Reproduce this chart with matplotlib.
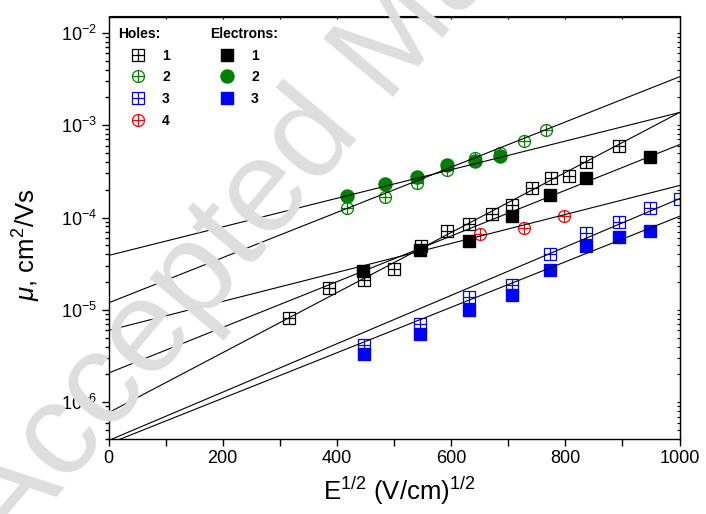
import matplotlib
matplotlib.use('Agg')
import matplotlib.pyplot as plt
from matplotlib.lines import Line2D
from matplotlib.legend_handler import HandlerTuple
from matplotlib.ticker import MultipleLocator, LogLocator, NullFormatter

plt.rcParams['font.family'] = ['Liberation Sans', 'DejaVu Sans']
plt.rcParams['mathtext.fontset'] = 'custom'
plt.rcParams['mathtext.rm'] = 'Liberation Sans'
plt.rcParams['mathtext.it'] = 'Liberation Sans:italic'

# ---- data (sqrt(E), mobility) ----
holes1_x = [316, 387, 447, 500, 548, 592, 632, 671, 707, 742, 775, 806, 837, 894]
holes1_y = [8.15e-6, 1.74e-5, 2.08e-5, 2.79e-5, 4.86e-5, 7.06e-5, 8.55e-5,
            1.10e-4, 1.35e-4, 2.07e-4, 2.66e-4, 2.79e-4, 3.96e-4, 6.0e-4]

holes2_x = [418, 484, 541, 593, 642, 685, 728, 766]
holes2_y = [1.26e-4, 1.67e-4, 2.39e-4, 3.30e-4, 4.40e-4, 5.05e-4, 6.75e-4, 8.93e-4]

holes3_x = [447, 546, 631, 706, 774, 836, 894, 948, 1000]
holes3_y = [4.13e-6, 6.97e-6, 1.37e-5, 1.84e-5, 4.05e-5, 6.79e-5, 8.89e-5, 1.27e-4, 1.59e-4]

holes4_x = [651, 728, 798]
holes4_y = [6.67e-5, 7.74e-5, 1.05e-4]

elec1_x = [446, 546, 631, 706, 774, 836, 948]
elec1_y = [2.62e-5, 4.40e-5, 5.55e-5, 1.03e-4, 1.76e-4, 2.66e-4, 4.49e-4]

elec2_x = [418, 484, 541, 593, 641, 685]
elec2_y = [1.73e-4, 2.29e-4, 2.77e-4, 3.70e-4, 4.13e-4, 4.68e-4]

elec3_x = [447, 546, 631, 706, 774, 836, 894, 948]
elec3_y = [3.36e-6, 5.53e-6, 9.89e-6, 1.44e-5, 2.72e-5, 4.92e-5, 6.15e-5, 7.23e-5]

# fitted lines: mobility at sqrt(E) = 0 and 1000
fit_x = [0, 1000]
fit_holes1 = [7.7e-7, 1.37e-3]
fit_holes2 = [1.19e-5, 3.34e-3]
fit_holes3 = [3.85e-7, 1.60e-4]
fit_holes4 = [6.0e-6, 2.22e-4]
fit_elec1 = [2.07e-6, 6.15e-4]
fit_elec2 = [3.88e-5, 1.37e-3]
fit_elec3 = [3.55e-7, 1.03e-4]

GREEN = '#008000'
BLUE = '#0000ff'
RED = '#ff0000'
BLACK = '#000000'

fig = plt.figure(figsize=(7.06, 5.14), dpi=100)
ax = fig.add_axes([108.5 / 706, 1 - 439 / 514, 571 / 706, 422.5 / 514])

# watermark
fig.text(9 / 706, 1 - 555 / 514, 'Accepted Manuscript', rotation=50, fontsize=95,
         color='#dedede', ha='left', va='baseline', rotation_mode='anchor', zorder=0)
ax.set_facecolor('none')

MS = 8.6
MEW = 0.9

def crossed(x, y, c, shape):
    ax.plot(x, y, shape, ls='none', ms=MS, mfc='white', mec=c, mew=MEW, zorder=2)
    ax.plot(x, y, '+', ls='none', ms=MS, mec=c, mew=MEW, zorder=2)

crossed(holes1_x, holes1_y, BLACK, 's')
crossed(holes2_x, holes2_y, GREEN, 'o')
crossed(holes3_x, holes3_y, BLUE, 's')
crossed(holes4_x, holes4_y, RED, 'o')

ax.plot(elec1_x, elec1_y, 's', ls='none', ms=MS, color=BLACK, zorder=2.5)
ax.plot(elec2_x, elec2_y, 'o', ls='none', ms=MS + 0.8, color=GREEN, zorder=2.5)
ax.plot(elec3_x, elec3_y, 's', ls='none', ms=MS, color=BLUE, zorder=2.5)

for fit in [fit_holes1, fit_holes2, fit_holes3, fit_holes4, fit_elec1, fit_elec2, fit_elec3]:
    ax.plot(fit_x, fit, color='black', lw=0.8, zorder=3)

ax.set_yscale('log')
ax.set_xlim(0, 1000)
ax.set_ylim(4e-7, 1.5e-2)
ax.xaxis.set_major_locator(MultipleLocator(200))
ax.xaxis.set_minor_locator(MultipleLocator(100))
ax.yaxis.set_major_locator(LogLocator(base=10, numticks=20))
ax.yaxis.set_minor_locator(LogLocator(base=10, subs=range(2, 10), numticks=20))
ax.yaxis.set_minor_formatter(NullFormatter())

for s in ax.spines.values():
    s.set_linewidth(1.0)
ax.tick_params(which='both', direction='out', top=False, right=False, labelsize=13, width=1.0)
ax.tick_params(which='major', length=5, pad=3)
ax.tick_params(which='minor', length=3)
ax.tick_params(axis='x', which='minor', length=5)

# inward ticks on top/right
axt = ax.secondary_xaxis('top')
axt.xaxis.set_major_locator(MultipleLocator(200))
axt.xaxis.set_minor_locator(MultipleLocator(100))
axt.tick_params(which='both', direction='in', length=2, labeltop=False, width=0.8)
axr = ax.secondary_yaxis('right')
axr.tick_params(which='both', direction='in', length=2, labelright=False, width=0.8)
axr.yaxis.set_minor_formatter(NullFormatter())

ax.set_xlabel('E$^{1/2}$ (V/cm)$^{1/2}$', fontsize=18.5)
ax.xaxis.set_label_coords(0.509, -0.085)
ax.set_ylabel('$\\mu$, cm$^2$/Vs', fontsize=18.5)
ax.yaxis.set_label_coords(-0.115, 0.46)

# legends
def cross_handle(c, shape):
    a = Line2D([], [], marker=shape, ls='none', ms=MS, mfc='white', mec=c, mew=MEW)
    b = Line2D([], [], marker='+', ls='none', ms=MS, mec=c, mew=MEW)
    return (a, b)

h_handles = [cross_handle(BLACK, 's'), cross_handle(GREEN, 'o'),
             cross_handle(BLUE, 's'), cross_handle(RED, 'o')]
e_handles = [Line2D([], [], marker='s', ls='none', ms=MS, color=BLACK),
             Line2D([], [], marker='o', ls='none', ms=MS + 0.8, color=GREEN),
             Line2D([], [], marker='s', ls='none', ms=MS, color=BLUE)]

leg_kw = dict(frameon=False, loc='upper left',
              prop={'weight': 'bold', 'size': 10},
              title_fontproperties={'weight': 'bold', 'size': 10},
              alignment='left', labelspacing=0.55, borderpad=0, borderaxespad=0,
              handler_map={tuple: HandlerTuple(ndivide=1, pad=0)})
leg1 = ax.legend(h_handles, ['1', '2', '3', '4'], title='Holes:',
                 bbox_to_anchor=(0.016, 0.975), handlelength=3.0,
                 handletextpad=0.2, **leg_kw)
ax.add_artist(leg1)
leg2 = ax.legend(e_handles, ['1', '2', '3'], title='Electrons:',
                 bbox_to_anchor=(0.178, 0.975), handlelength=2.4,
                 handletextpad=0.55, **leg_kw)

fig.savefig('out.png', dpi=100)
